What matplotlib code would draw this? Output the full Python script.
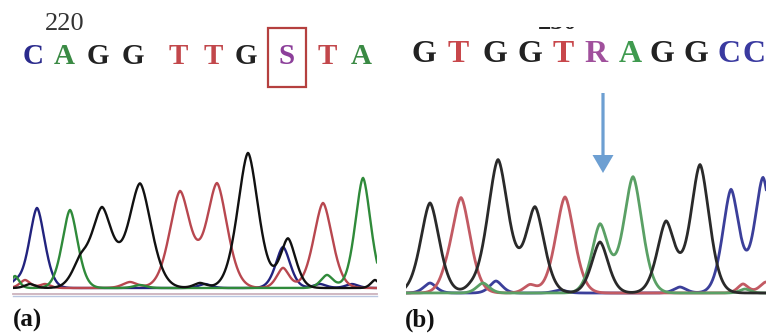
import numpy as np
import matplotlib
matplotlib.use("Agg")
import matplotlib.pyplot as plt
from matplotlib.patches import Rectangle, FancyArrow

W, H = 766, 333

# ---------------- data ----------------
# Panel (a): base calls and chromatogram peaks (scan position, intensity, width)
a_bases = ["C", "A", "G", "G", "T", "T", "G", "S", "T", "A"]
a_base_pos = [33, 64, 98, 133, 178, 213, 246, 287, 327, 361]
a_number = "220"

a_peaks = {
    "C": [(37, 80, 7.5), (283, 41, 7), (320, 4, 6), (205, 4, 6), (352, 4, 6), (15, 5, 5)],
    "A": [(70, 78, 7.5), (363, 110, 7.5), (327, 13, 6), (15, 12, 4), (140, 3, 6)],
    "G": [(80, 22, 8), (102, 78, 10), (140, 104, 11), (248, 135, 10),
          (288, 49, 7.5), (375, 8, 4), (30, 4, 5), (200, 5, 6)],
    "T": [(180, 96, 10), (217, 104, 10), (323, 85, 9), (283, 20, 6),
          (25, 8, 5), (130, 6, 7), (45, 4, 5)],
}

# Panel (b)
b_bases = ["G", "T", "G", "G", "T", "R", "A", "G", "G", "C", "C"]
b_base_pos = [424, 458, 495, 530, 563, 596, 630, 662, 696, 729, 754]
b_number = "230"

b_peaks = {
    "G": [(430, 90, 9), (498, 133, 10), (535, 85, 9), (600, 51, 8),
          (666, 71, 8.5), (700, 128, 9), (470, 3, 6)],
    "T": [(461, 95, 9), (565, 96, 9), (445, 5, 6), (530, 8, 6), (743, 9, 5), (766, 11, 6)],
    "A": [(600, 68, 8), (633, 116, 9), (483, 10, 6), (745, 4, 5)],
    "C": [(731, 103, 8), (763, 115, 8), (430, 10, 6), (496, 12, 6), (680, 6, 6), (560, 3, 6)],
}

# ---------------- styles ----------------
a_trace_col = {"C": "#22237e", "A": "#2f8a3a", "G": "#111111", "T": "#b8474f"}
b_trace_col = {"C": "#3b3f9a", "A": "#5aa065", "G": "#2a2a2a", "T": "#c25a63"}
a_letter_col = {"C": "#2a2a8c", "A": "#3a8a44", "G": "#222222", "T": "#c2474b", "S": "#8c3f9a"}
b_letter_col = {"C": "#3a3aa0", "A": "#3f9a4f", "G": "#222222", "T": "#c8474b", "R": "#a0509c"}

fig = plt.figure(figsize=(W / 100, H / 100), dpi=100)
fig.patch.set_facecolor("white")


def px_axes(left, top, right, bottom):
    return fig.add_axes([left / W, 1 - bottom / H, (right - left) / W, (bottom - top) / H])


def draw_chrom(ax, peaks, cols, x0, x1, lw):
    xs = np.linspace(x0 - 20, x1 + 20, 1500)
    order = ["C", "T", "A", "G"]
    for ch in order:
        y = np.zeros_like(xs)
        for (p, h, s) in peaks[ch]:
            y += h * np.exp(-0.5 * np.abs((xs - p) / s) ** 1.7)
        ax.plot(xs, y, color=cols[ch], lw=lw, solid_joinstyle="miter")
    ax.set_xlim(x0, x1)
    ax.axis("off")


# chromatogram (a)
ax_a = px_axes(13, 140, 377, 290)
draw_chrom(ax_a, a_peaks, a_trace_col, 13, 377, 1.7)
ax_a.set_ylim(-2, 148)

# chromatogram (b)
ax_b = px_axes(406, 140, 766, 295)
draw_chrom(ax_b, b_peaks, b_trace_col, 406, 766, 2.0)
ax_b.set_ylim(-2, 153)

# overlay axes in pixel coordinates
ov = fig.add_axes([0, 0, 1, 1], facecolor="none")
ov.set_xlim(0, W)
ov.set_ylim(H, 0)
ov.axis("off")

# baseline double line under (a)
ov.plot([13, 377], [294, 294], color="#cdb3bd", lw=1.3)
ov.plot([13, 377], [296, 296], color="#b9c6e0", lw=1.0)

# base letters
for b, x in zip(a_bases, a_base_pos):
    ov.text(x, 57, b, color=a_letter_col[b], fontsize=21, family="Liberation Serif",
            fontweight="bold", ha="center", va="center")
for b, x in zip(b_bases, b_base_pos):
    ov.text(x, 54, b, color=b_letter_col[b], fontsize=23, family="Liberation Serif",
            fontweight="bold", ha="center", va="center")

ov.text(65, 24, a_number, color="#333333", fontsize=19, family="Liberation Serif",
        ha="center", va="center")

# number above panel (b): cut off at the top of the image, only its foot shows
ov.text(558, 29, b_number, color="#222222", fontsize=19, family="Liberation Serif",
        fontweight="bold", ha="center", va="baseline", zorder=3)
ov.add_patch(Rectangle((515, 0), 90, 27.3, facecolor="white", edgecolor="none", zorder=4))

# red box around S
ov.add_patch(Rectangle((268, 28), 38, 59, fill=False, edgecolor="#b5403f", lw=1.6, zorder=5))

# blue arrow
ov.add_patch(FancyArrow(603, 93, 0, 80, width=3.2, head_width=21, head_length=18,
                        length_includes_head=True, color="#6d9fd2", lw=0))

# panel labels
ov.text(13, 320, "(a)", fontsize=18, family="Liberation Serif", fontweight="bold",
        ha="left", va="center", color="#111111")
ov.text(405, 320, "(b)", fontsize=18, family="Liberation Serif", fontweight="bold",
        ha="left", va="center", color="#111111")

fig.savefig("out.png", dpi=100, facecolor="white")
